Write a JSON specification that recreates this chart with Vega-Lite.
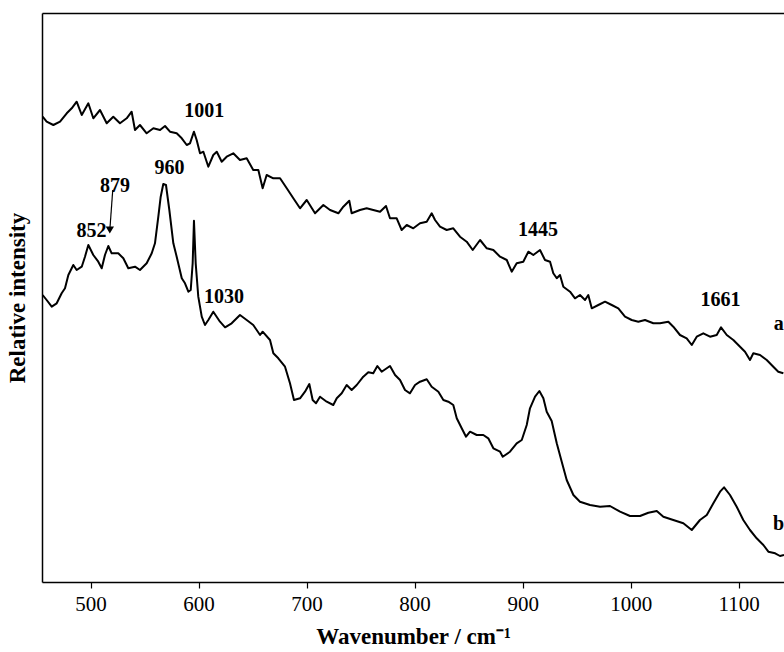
{
  "$schema": "https://vega.github.io/schema/vega-lite/v6.json",
  "autosize": "none",
  "width": 742,
  "height": 569,
  "padding": {"left": 42, "top": 13, "right": 0, "bottom": 70},
  "config": {
    "view": {"stroke": null},
    "font": "Liberation Serif",
    "axis": {"labelFont": "Liberation Serif", "titleFont": "Liberation Serif", "domainColor": "#000", "tickColor": "#000", "labelColor": "#000", "titleColor": "#000", "grid": false}
  },
  "datasets": {
    "spec": [
      {"series":"a","wavenumber":455.6,"intensity":465.3},{"series":"a","wavenumber":459.3,"intensity":460.3},{"series":"a","wavenumber":465.5,"intensity":457},{"series":"a","wavenumber":471.7,"intensity":460.3},{"series":"a","wavenumber":477.9,"intensity":468.7},{"series":"a","wavenumber":482.5,"intensity":473.7},{"series":"a","wavenumber":487.1,"intensity":480.3},{"series":"a","wavenumber":491.8,"intensity":467},{"series":"a","wavenumber":497.9,"intensity":478.7},{"series":"a","wavenumber":502.5,"intensity":463.7},{"series":"a","wavenumber":508.7,"intensity":472},{"series":"a","wavenumber":514.9,"intensity":458.7},{"series":"a","wavenumber":521.0,"intensity":465.3},{"series":"a","wavenumber":527.2,"intensity":458.7},{"series":"a","wavenumber":533.4,"intensity":463.7},{"series":"a","wavenumber":538.0,"intensity":470.3},{"series":"a","wavenumber":541.1,"intensity":452},{"series":"a","wavenumber":545.7,"intensity":457},{"series":"a","wavenumber":551.9,"intensity":448.7},{"series":"a","wavenumber":558.1,"intensity":453.7},{"series":"a","wavenumber":564.3,"intensity":452},{"series":"a","wavenumber":568.9,"intensity":456},{"series":"a","wavenumber":573.5,"intensity":450.3},{"series":"a","wavenumber":579.7,"intensity":448.7},{"series":"a","wavenumber":584.4,"intensity":443.7},{"series":"a","wavenumber":589.0,"intensity":437},{"series":"a","wavenumber":592.0,"intensity":438.7},{"series":"a","wavenumber":595.7,"intensity":450.3},{"series":"a","wavenumber":598.2,"intensity":442},{"series":"a","wavenumber":601.3,"intensity":428.7},{"series":"a","wavenumber":604.4,"intensity":430.3},{"series":"a","wavenumber":609.0,"intensity":415.3},{"series":"a","wavenumber":613.6,"intensity":427},{"series":"a","wavenumber":616.8,"intensity":430.3},{"series":"a","wavenumber":621.4,"intensity":420.3},{"series":"a","wavenumber":626.0,"intensity":425.3},{"series":"a","wavenumber":632.1,"intensity":428.7},{"series":"a","wavenumber":638.3,"intensity":422},{"series":"a","wavenumber":644.5,"intensity":423.7},{"series":"a","wavenumber":650.6,"intensity":412},{"series":"a","wavenumber":655.3,"intensity":412},{"series":"a","wavenumber":659.3,"intensity":393.7},{"series":"a","wavenumber":663.0,"intensity":407},{"series":"a","wavenumber":669.2,"intensity":403.7},{"series":"a","wavenumber":675.4,"intensity":403.7},{"series":"a","wavenumber":681.6,"intensity":393.7},{"series":"a","wavenumber":687.7,"intensity":383.7},{"series":"a","wavenumber":693.9,"intensity":373.7},{"series":"a","wavenumber":700.1,"intensity":382},{"series":"a","wavenumber":707.8,"intensity":368.7},{"series":"a","wavenumber":715.5,"intensity":377},{"series":"a","wavenumber":721.7,"intensity":372},{"series":"a","wavenumber":729.4,"intensity":368.7},{"series":"a","wavenumber":734.0,"intensity":375.3},{"series":"a","wavenumber":739.5,"intensity":381.3},{"series":"a","wavenumber":741.7,"intensity":368.7},{"series":"a","wavenumber":749.4,"intensity":372},{"series":"a","wavenumber":755.6,"intensity":373.7},{"series":"a","wavenumber":761.7,"intensity":372},{"series":"a","wavenumber":768.0,"intensity":370.3},{"series":"a","wavenumber":773.5,"intensity":376},{"series":"a","wavenumber":777.2,"intensity":363.7},{"series":"a","wavenumber":783.4,"intensity":363.7},{"series":"a","wavenumber":788.0,"intensity":352},{"series":"a","wavenumber":792.7,"intensity":357},{"series":"a","wavenumber":798.8,"intensity":353.7},{"series":"a","wavenumber":805.0,"intensity":358.7},{"series":"a","wavenumber":811.2,"intensity":360.3},{"series":"a","wavenumber":815.8,"intensity":368.7},{"series":"a","wavenumber":818.9,"intensity":362},{"series":"a","wavenumber":823.5,"intensity":355.3},{"series":"a","wavenumber":829.7,"intensity":352},{"series":"a","wavenumber":835.8,"intensity":353.7},{"series":"a","wavenumber":842.0,"intensity":345.3},{"series":"a","wavenumber":848.2,"intensity":340.3},{"series":"a","wavenumber":853.8,"intensity":332},{"series":"a","wavenumber":860.6,"intensity":342},{"series":"a","wavenumber":866.8,"intensity":333.7},{"series":"a","wavenumber":872.9,"intensity":332},{"series":"a","wavenumber":879.1,"intensity":325.3},{"series":"a","wavenumber":885.3,"intensity":322},{"series":"a","wavenumber":889.9,"intensity":310.3},{"series":"a","wavenumber":894.5,"intensity":318.7},{"series":"a","wavenumber":900.6,"intensity":320.3},{"series":"a","wavenumber":905.3,"intensity":330.3},{"series":"a","wavenumber":909.9,"intensity":327},{"series":"a","wavenumber":916.1,"intensity":332},{"series":"a","wavenumber":920.7,"intensity":322},{"series":"a","wavenumber":925.4,"intensity":320.3},{"series":"a","wavenumber":928.4,"intensity":308.7},{"series":"a","wavenumber":931.6,"intensity":303.7},{"series":"a","wavenumber":934.6,"intensity":307},{"series":"a","wavenumber":937.7,"intensity":295.3},{"series":"a","wavenumber":943.9,"intensity":290.3},{"series":"a","wavenumber":948.5,"intensity":283.7},{"series":"a","wavenumber":953.1,"intensity":287},{"series":"a","wavenumber":957.8,"intensity":282},{"series":"a","wavenumber":960.8,"intensity":287},{"series":"a","wavenumber":964.0,"intensity":273.7},{"series":"a","wavenumber":970.1,"intensity":277},{"series":"a","wavenumber":976.3,"intensity":280.3},{"series":"a","wavenumber":982.5,"intensity":277},{"series":"a","wavenumber":988.6,"intensity":273.7},{"series":"a","wavenumber":994.8,"intensity":265.3},{"series":"a","wavenumber":1001.0,"intensity":262},{"series":"a","wavenumber":1007.1,"intensity":260.3},{"series":"a","wavenumber":1013.3,"intensity":262},{"series":"a","wavenumber":1021.0,"intensity":258.7},{"series":"a","wavenumber":1027.2,"intensity":258.7},{"series":"a","wavenumber":1034.9,"intensity":260.3},{"series":"a","wavenumber":1039.5,"intensity":255.3},{"series":"a","wavenumber":1045.7,"intensity":247},{"series":"a","wavenumber":1051.9,"intensity":243.7},{"series":"a","wavenumber":1056.6,"intensity":237},{"series":"a","wavenumber":1061.2,"intensity":245.3},{"series":"a","wavenumber":1067.3,"intensity":248.7},{"series":"a","wavenumber":1073.5,"intensity":245.3},{"series":"a","wavenumber":1079.7,"intensity":247},{"series":"a","wavenumber":1083.7,"intensity":254.7},{"series":"a","wavenumber":1089.0,"intensity":247},{"series":"a","wavenumber":1095.1,"intensity":242},{"series":"a","wavenumber":1101.3,"intensity":235.3},{"series":"a","wavenumber":1105.9,"intensity":230.3},{"series":"a","wavenumber":1110.5,"intensity":222},{"series":"a","wavenumber":1113.6,"intensity":228.7},{"series":"a","wavenumber":1119.8,"intensity":227},{"series":"a","wavenumber":1126.0,"intensity":222},{"series":"a","wavenumber":1132.1,"intensity":215.3},{"series":"a","wavenumber":1136.7,"intensity":210.3},{"series":"a","wavenumber":1141.4,"intensity":208.7},
      {"series":"b","wavenumber":455.6,"intensity":287},{"series":"b","wavenumber":459.3,"intensity":282},{"series":"b","wavenumber":464.0,"intensity":275.3},{"series":"b","wavenumber":468.6,"intensity":278.7},{"series":"b","wavenumber":473.2,"intensity":288.7},{"series":"b","wavenumber":476.3,"intensity":293.7},{"series":"b","wavenumber":479.4,"intensity":307},{"series":"b","wavenumber":484.0,"intensity":317},{"series":"b","wavenumber":487.1,"intensity":312},{"series":"b","wavenumber":491.8,"intensity":315.3},{"series":"b","wavenumber":494.8,"intensity":325.3},{"series":"b","wavenumber":497.9,"intensity":337},{"series":"b","wavenumber":502.5,"intensity":327},{"series":"b","wavenumber":507.1,"intensity":320.3},{"series":"b","wavenumber":510.3,"intensity":313.7},{"series":"b","wavenumber":513.3,"intensity":327},{"series":"b","wavenumber":516.4,"intensity":336},{"series":"b","wavenumber":519.5,"intensity":328.7},{"series":"b","wavenumber":525.6,"intensity":328.7},{"series":"b","wavenumber":530.3,"intensity":323.7},{"series":"b","wavenumber":534.9,"intensity":313.7},{"series":"b","wavenumber":541.1,"intensity":315.3},{"series":"b","wavenumber":545.7,"intensity":312},{"series":"b","wavenumber":551.9,"intensity":318.7},{"series":"b","wavenumber":556.6,"intensity":328.7},{"series":"b","wavenumber":559.6,"intensity":338.7},{"series":"b","wavenumber":562.7,"intensity":365.3},{"series":"b","wavenumber":564.9,"intensity":385.3},{"series":"b","wavenumber":567.3,"intensity":398},{"series":"b","wavenumber":569.8,"intensity":397},{"series":"b","wavenumber":572.9,"intensity":372},{"series":"b","wavenumber":576.6,"intensity":338.7},{"series":"b","wavenumber":579.7,"intensity":325.3},{"series":"b","wavenumber":584.4,"intensity":303.7},{"series":"b","wavenumber":587.4,"intensity":298.7},{"series":"b","wavenumber":590.5,"intensity":290.3},{"series":"b","wavenumber":592.7,"intensity":292},{"series":"b","wavenumber":594.5,"intensity":318.7},{"series":"b","wavenumber":595.7,"intensity":361.3},{"series":"b","wavenumber":597.3,"intensity":318.7},{"series":"b","wavenumber":599.7,"intensity":285.3},{"series":"b","wavenumber":602.9,"intensity":265.3},{"series":"b","wavenumber":605.9,"intensity":257},{"series":"b","wavenumber":609.0,"intensity":262},{"series":"b","wavenumber":613.6,"intensity":270.3},{"series":"b","wavenumber":619.8,"intensity":260.3},{"series":"b","wavenumber":624.5,"intensity":254.7},{"series":"b","wavenumber":630.6,"intensity":258.7},{"series":"b","wavenumber":638.3,"intensity":267},{"series":"b","wavenumber":644.5,"intensity":262},{"series":"b","wavenumber":650.6,"intensity":257},{"series":"b","wavenumber":656.9,"intensity":247},{"series":"b","wavenumber":659.3,"intensity":250.3},{"series":"b","wavenumber":666.1,"intensity":242},{"series":"b","wavenumber":669.2,"intensity":228.7},{"series":"b","wavenumber":673.8,"intensity":223.7},{"series":"b","wavenumber":680.0,"intensity":215.3},{"series":"b","wavenumber":684.6,"intensity":198.7},{"series":"b","wavenumber":688.3,"intensity":182},{"series":"b","wavenumber":693.9,"intensity":183.7},{"series":"b","wavenumber":698.5,"intensity":190.3},{"series":"b","wavenumber":702.5,"intensity":198},{"series":"b","wavenumber":705.6,"intensity":182},{"series":"b","wavenumber":708.7,"intensity":178.7},{"series":"b","wavenumber":712.4,"intensity":185.3},{"series":"b","wavenumber":718.6,"intensity":180.3},{"series":"b","wavenumber":724.7,"intensity":177},{"series":"b","wavenumber":727.9,"intensity":183.7},{"series":"b","wavenumber":732.5,"intensity":188.7},{"series":"b","wavenumber":737.1,"intensity":197},{"series":"b","wavenumber":741.7,"intensity":192},{"series":"b","wavenumber":746.4,"intensity":197},{"series":"b","wavenumber":752.5,"intensity":205.3},{"series":"b","wavenumber":757.1,"intensity":209.7},{"series":"b","wavenumber":761.7,"intensity":208.7},{"series":"b","wavenumber":765.5,"intensity":216},{"series":"b","wavenumber":769.5,"intensity":210.3},{"series":"b","wavenumber":777.2,"intensity":216},{"series":"b","wavenumber":781.9,"intensity":207},{"series":"b","wavenumber":786.5,"intensity":202},{"series":"b","wavenumber":791.1,"intensity":192},{"series":"b","wavenumber":795.7,"intensity":188.7},{"series":"b","wavenumber":800.4,"intensity":197},{"series":"b","wavenumber":805.0,"intensity":200.3},{"series":"b","wavenumber":811.2,"intensity":202.7},{"series":"b","wavenumber":815.8,"intensity":195.3},{"series":"b","wavenumber":822.0,"intensity":190.3},{"series":"b","wavenumber":826.6,"intensity":182},{"series":"b","wavenumber":831.2,"intensity":180.3},{"series":"b","wavenumber":835.8,"intensity":177},{"series":"b","wavenumber":839.0,"intensity":163.7},{"series":"b","wavenumber":843.6,"intensity":153.7},{"series":"b","wavenumber":847.6,"intensity":145.3},{"series":"b","wavenumber":851.3,"intensity":150.3},{"series":"b","wavenumber":857.5,"intensity":147},{"series":"b","wavenumber":863.6,"intensity":147},{"series":"b","wavenumber":868.2,"intensity":143.7},{"series":"b","wavenumber":872.9,"intensity":133.7},{"series":"b","wavenumber":879.1,"intensity":130.3},{"series":"b","wavenumber":881.6,"intensity":125.3},{"series":"b","wavenumber":888.3,"intensity":130.3},{"series":"b","wavenumber":894.5,"intensity":138.7},{"series":"b","wavenumber":899.2,"intensity":142},{"series":"b","wavenumber":903.8,"intensity":157},{"series":"b","wavenumber":906.8,"intensity":173.7},{"series":"b","wavenumber":911.5,"intensity":185.3},{"series":"b","wavenumber":915.5,"intensity":191},{"series":"b","wavenumber":919.2,"intensity":183.7},{"series":"b","wavenumber":922.3,"intensity":170.3},{"series":"b","wavenumber":926.9,"intensity":161},{"series":"b","wavenumber":931.6,"intensity":138.7},{"series":"b","wavenumber":936.2,"intensity":120.3},{"series":"b","wavenumber":940.8,"intensity":102},{"series":"b","wavenumber":947.0,"intensity":87},{"series":"b","wavenumber":953.1,"intensity":80.3},{"series":"b","wavenumber":962.4,"intensity":77},{"series":"b","wavenumber":971.7,"intensity":75.3},{"series":"b","wavenumber":980.9,"intensity":76},{"series":"b","wavenumber":990.2,"intensity":70.3},{"series":"b","wavenumber":999.4,"intensity":66},{"series":"b","wavenumber":1008.7,"intensity":66},{"series":"b","wavenumber":1016.4,"intensity":69.3},{"series":"b","wavenumber":1024.2,"intensity":71},{"series":"b","wavenumber":1030.3,"intensity":65.3},{"series":"b","wavenumber":1039.5,"intensity":62},{"series":"b","wavenumber":1048.8,"intensity":58.7},{"series":"b","wavenumber":1056.6,"intensity":52},{"series":"b","wavenumber":1064.2,"intensity":62},{"series":"b","wavenumber":1070.5,"intensity":67},{"series":"b","wavenumber":1076.6,"intensity":78.7},{"series":"b","wavenumber":1082.8,"intensity":90.3},{"series":"b","wavenumber":1086.5,"intensity":94.7},{"series":"b","wavenumber":1092.0,"intensity":87},{"series":"b","wavenumber":1098.2,"intensity":75.3},{"series":"b","wavenumber":1104.3,"intensity":62},{"series":"b","wavenumber":1110.5,"intensity":52},{"series":"b","wavenumber":1116.7,"intensity":43.7},{"series":"b","wavenumber":1122.9,"intensity":37},{"series":"b","wavenumber":1127.5,"intensity":30.3},{"series":"b","wavenumber":1133.8,"intensity":28.7},{"series":"b","wavenumber":1138.3,"intensity":26},{"series":"b","wavenumber":1142.0,"intensity":27}
    ],
    "peaks": [
      {"label":"1001","wavenumber":605.2,"intensity":465},
      {"label":"960","wavenumber":573.0,"intensity":408},
      {"label":"879","wavenumber":522.6,"intensity":390},
      {"label":"852","wavenumber":500.8,"intensity":345},
      {"label":"1030","wavenumber":623.5,"intensity":279},
      {"label":"1445","wavenumber":914.3,"intensity":346},
      {"label":"1661","wavenumber":1083.1,"intensity":276}
    ],
    "names": [
      {"label":"a","wavenumber":1132.6,"intensity":252},
      {"label":"b","wavenumber":1131.9,"intensity":52}
    ],
    "arrow": [
      {"wavenumber":520.5,"intensity":392,"wavenumber2":517.8,"intensity2":352}
    ]
  },
  "resolve": {"axis": {"x": "independent"}},
  "layer": [
    {
      "data": {"name": "spec"},
      "mark": {"type": "line", "color": "#000", "strokeWidth": 2, "strokeJoin": "round"},
      "encoding": {
        "x": {"field": "wavenumber", "type": "quantitative", "scale": {"domain": [455, 1142], "nice": false, "zero": false},
          "axis": {"values": [500,600,700,800,900,1000,1100], "format": "d", "title": "Wavenumber / cm⁻¹", "titleFontSize": 23, "titleFontWeight": "bold", "titlePadding": 11, "labelFontSize": 21, "labelPadding": 5, "tickSize": 6, "tickWidth": 1.2, "domainWidth": 1.5, "labelFlush": false}},
        "y": {"field": "intensity", "type": "quantitative", "scale": {"domain": [0, 569], "nice": false},
          "axis": {"title": "Relative intensity", "titleFontSize": 23, "titleFontWeight": "bold", "titlePadding": 13, "labels": false, "ticks": false, "domainWidth": 1.5}},
        "detail": {"field": "series", "type": "nominal"}
      }
    },
    {
      "data": {"name": "arrow"},
      "mark": {"type": "rule", "color": "#000", "strokeWidth": 1.2},
      "encoding": {
        "x": {"field": "wavenumber", "type": "quantitative", "axis": null},
        "y": {"field": "intensity", "type": "quantitative"},
        "x2": {"field": "wavenumber2"},
        "y2": {"field": "intensity2"}
      }
    },
    {
      "data": {"name": "arrow"},
      "mark": {"type": "point", "shape": "triangle-down", "filled": true, "color": "#000", "size": 70, "opacity": 1},
      "encoding": {
        "x": {"field": "wavenumber2", "type": "quantitative", "axis": null},
        "y": {"field": "intensity2", "type": "quantitative"}
      }
    },
    {
      "data": {"name": "peaks"},
      "mark": {"type": "text", "font": "Liberation Serif", "fontSize": 20, "fontWeight": "bold", "color": "#000", "align": "center", "baseline": "alphabetic"},
      "encoding": {
        "x": {"field": "wavenumber", "type": "quantitative", "axis": null},
        "y": {"field": "intensity", "type": "quantitative"},
        "text": {"field": "label"}
      }
    },
    {
      "data": {"name": "names"},
      "mark": {"type": "text", "font": "Liberation Serif", "fontSize": 20, "fontWeight": "bold", "color": "#000", "align": "left", "baseline": "alphabetic"},
      "encoding": {
        "x": {"field": "wavenumber", "type": "quantitative", "axis": {"orient": "top", "labels": false, "ticks": false, "title": null, "domainWidth": 1.5}},
        "y": {"field": "intensity", "type": "quantitative"},
        "text": {"field": "label"}
      }
    }
  ]
}
